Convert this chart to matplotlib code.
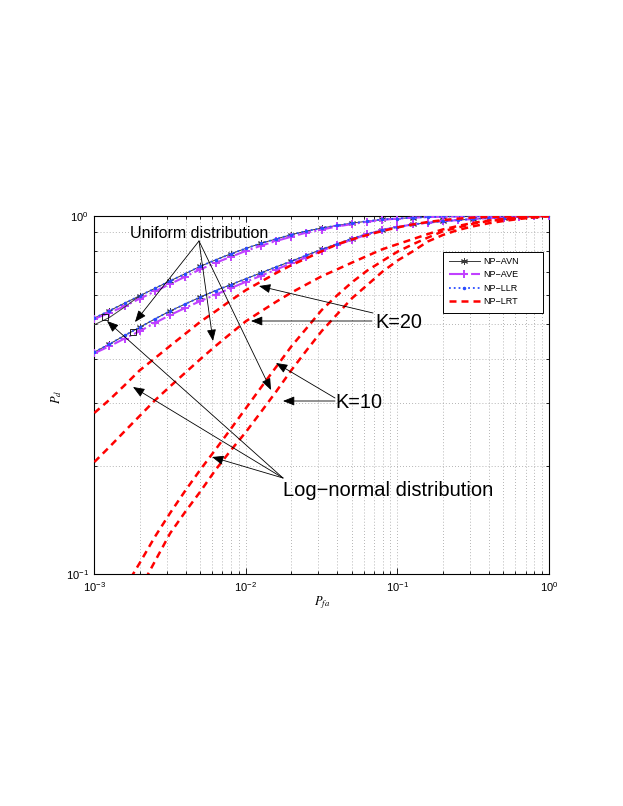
import matplotlib
matplotlib.use('Agg')
import matplotlib.pyplot as plt
from matplotlib.patches import Rectangle
from matplotlib.lines import Line2D
from matplotlib.ticker import LogLocator, NullFormatter, FixedLocator

plt.rcParams['font.family'] = ['Liberation Sans', 'DejaVu Sans']
plt.rcParams['mathtext.fontset'] = 'custom'
plt.rcParams['mathtext.rm'] = 'Liberation Sans'
plt.rcParams['mathtext.it'] = 'Liberation Sans:italic'
plt.rcParams['mathtext.bf'] = 'Liberation Sans:bold'

# ---------------- data ----------------
pfa = [0.001, 0.001259, 0.001585, 0.001995, 0.002512, 0.003162, 0.003981, 0.005012,
       0.00631, 0.007943, 0.01, 0.01259, 0.01585, 0.01995, 0.02512, 0.03162, 0.03981,
       0.05012, 0.0631, 0.07943, 0.1, 0.1259, 0.1585, 0.1995, 0.2512, 0.3162, 0.3981,
       0.5012, 0.631, 0.7943, 1.0]

# K=20 (upper group) NP-LLR / NP-AVN
k20_llr = [0.519, 0.544, 0.571, 0.599, 0.628, 0.659, 0.690, 0.724, 0.754, 0.784, 0.812,
           0.839, 0.863, 0.887, 0.908, 0.925, 0.941, 0.955, 0.967, 0.978, 0.984, 0.989,
           0.993, 0.996, 0.997, 0.998, 0.999, 0.999, 1.0, 1.0, 1.0]
k20_ave = [0.516, 0.537, 0.560, 0.588, 0.616, 0.646, 0.677, 0.710, 0.740, 0.769, 0.799,
           0.826, 0.852, 0.875, 0.899, 0.916, 0.935, 0.949, 0.964, 0.975, 0.984, 0.989,
           0.993, 0.996, 0.997, 0.998, 0.999, 0.999, 1.0, 1.0, 1.0]
# K=10 (lower group)
k10_llr = [0.417, 0.439, 0.464, 0.489, 0.516, 0.543, 0.568, 0.594, 0.619, 0.643, 0.668,
           0.694, 0.721, 0.748, 0.777, 0.807, 0.835, 0.865, 0.891, 0.914, 0.932, 0.947,
           0.958, 0.967, 0.974, 0.981, 0.986, 0.990, 0.994, 0.997, 1.0]
k10_ave = [0.414, 0.433, 0.455, 0.477, 0.503, 0.529, 0.554, 0.579, 0.603, 0.629, 0.655,
           0.681, 0.709, 0.738, 0.767, 0.799, 0.830, 0.859, 0.888, 0.914, 0.932, 0.947,
           0.958, 0.967, 0.974, 0.981, 0.986, 0.990, 0.994, 0.997, 1.0]
# log-normal NP-AVN, K=20, start segment
ln20_avn_x = [0.001, 0.001259, 0.001585, 0.001995]
ln20_avn = [0.497, 0.521, 0.557, 0.599]

# NP-LRT curves
lrt_ln20 = [0.282, 0.307, 0.337, 0.371, 0.401, 0.434, 0.469, 0.507, 0.542, 0.581, 0.621,
            0.656, 0.693, 0.729, 0.762, 0.797, 0.833, 0.860, 0.885, 0.908, 0.929, 0.947,
            0.962, 0.974, 0.983, 0.990, 0.994, 0.996, 0.998, 0.999, 1.0]
lrt_un20 = [0.2057, 0.2267, 0.2507, 0.2769, 0.3059, 0.3345, 0.3652, 0.3987, 0.4337, 0.4700,
            0.5085, 0.5417, 0.5764, 0.6112, 0.6443, 0.6788, 0.7090, 0.7412, 0.7737, 0.8074,
            0.8343, 0.8614, 0.8903, 0.9176, 0.9378, 0.9572, 0.9709, 0.9815, 0.9897, 0.9955, 1.0]
lrt_ln10 = [0.0915, 0.1076, 0.1273, 0.1482, 0.1711, 0.1960, 0.2230, 0.2543, 0.2907, 0.3323,
            0.3792, 0.4325, 0.4859, 0.5462, 0.5995, 0.6531, 0.7039, 0.7485, 0.7949, 0.8331,
            0.8703, 0.9064, 0.9288, 0.9517, 0.9683, 0.9777, 0.9872, 0.9936, 1.0]
lrt_un10 = [0.0907, 0.1087, 0.1301, 0.1494, 0.1703, 0.1957, 0.2216, 0.2495, 0.2839, 0.3237,
            0.3712, 0.4215, 0.4771, 0.5306, 0.5894, 0.6414, 0.6985, 0.7507, 0.7962, 0.8487,
            0.8852, 0.9140, 0.9360, 0.9541, 0.9683, 0.9809, 0.9904, 1.0]

sq_x = [0.00118, 0.0018]
sq_y = [0.522, 0.474]

legend_labels = ['NP\u2212AVN', 'NP\u2212AVE', 'NP\u2212LLR', 'NP\u2212LRT']
xtick_vals = [1e-3, 1e-2, 1e-1, 1e0]
ytick_vals = [1e-1, 1e0]

# ---------------- styles ----------------
C_AVN = '#3a3a3a'
C_AVE = '#c040ff'
C_LLR = '#2a4cff'
C_LRT = '#ff0000'

avn_kw = dict(color=C_AVN, lw=0.7, ls='-', marker=(6, 2, 0), ms=5, mew=0.7,
              markevery=(1, 2))
ave_kw = dict(color=C_AVE, lw=1.5, ls='-.', marker='+', ms=5.5, mew=1.4)
llr_kw = dict(color=C_LLR, lw=1.3, ls=':', marker='.', ms=3)
lrt_kw = dict(color=C_LRT, lw=1.8, ls=(0, (2.8, 2.0)))

fig = plt.figure(figsize=(6.23, 8.06), dpi=100)
ax = fig.add_axes([0.15136, 0.28747, 0.72986, 0.44454])
ax.set_xscale('log')
ax.set_yscale('log')

# group curves
for yl, ya in [(k20_llr, k20_ave), (k10_llr, k10_ave)]:
    ax.plot(pfa, yl, zorder=3, **avn_kw)
    ax.plot(pfa, ya, zorder=3, **ave_kw)
    ax.plot(pfa, yl, zorder=3, **llr_kw)
ax.plot(ln20_avn_x, ln20_avn, color=C_AVN, lw=0.7, zorder=3)

for y in [lrt_ln20, lrt_un20, lrt_ln10, lrt_un10]:
    ax.plot(pfa[-len(y):], y, zorder=4, **lrt_kw)

ax.plot(sq_x, sq_y, ls='none', marker='s', ms=5, mfc='none', mec='black', mew=0.6, zorder=4)

ax.set_xlim(1e-3, 1)
ax.set_ylim(0.1, 1)
ax.xaxis.set_major_locator(FixedLocator(xtick_vals))
ax.yaxis.set_major_locator(FixedLocator(ytick_vals))
ax.xaxis.set_minor_locator(LogLocator(base=10, subs=[2, 3, 4, 5, 6, 7, 8, 9], numticks=20))
ax.yaxis.set_minor_locator(LogLocator(base=10, subs=[2, 3, 4, 5, 6, 7, 8, 9], numticks=20))
ax.xaxis.set_minor_formatter(NullFormatter())
ax.yaxis.set_minor_formatter(NullFormatter())

ax.grid(True, which='both', color='#8a8a8a', lw=0.55, ls=(0, (1, 3)))
ax.set_axisbelow(True)
ax.tick_params(which='both', direction='in', top=True, right=True, width=0.6,
               labelsize=8, pad=4, colors='black')
ax.tick_params(which='major', length=4)
ax.tick_params(which='minor', length=2.2)
for s in ax.spines.values():
    s.set_linewidth(0.8)

ax.set_xlabel(r'$P_{fa}$', fontsize=9, math_fontfamily='stix')
ax.xaxis.set_label_coords(0.5, -0.055)
ax.set_ylabel(r'$P_d$', fontsize=9, math_fontfamily='stix')
ax.yaxis.set_label_coords(-0.066, 0.495)

# legend
ax.add_patch(Rectangle((0.767, 0.729), 0.22, 0.1705, transform=ax.transAxes,
                       fc='white', ec='black', lw=0.7, zorder=6))
handles = [Line2D([], [], color=C_AVN, lw=0.7, marker=(6, 2, 0), ms=5, mew=0.7),
           Line2D([], [], color=C_AVE, lw=1.5, ls='-.', marker='+', ms=5.5, mew=1.4),
           Line2D([], [], color=C_LLR, lw=1.3, ls=':', marker='.', ms=3),
           Line2D([], [], color=C_LRT, lw=1.8, ls=(0, (2.8, 2.0)))]
leg = ax.legend(handles, legend_labels, loc='upper left', bbox_to_anchor=(0.7804, 0.886),
                borderpad=0, borderaxespad=0, handlelength=3.4, handletextpad=0.35,
                labelspacing=0.5, fontsize=6.5, frameon=False)
leg.set_zorder(7)

# annotations (figure pixel coordinates)
H = 806
def P(x, y):
    return (x, H - y)

arrow_kw = dict(arrowstyle='-|>,head_length=0.7,head_width=0.28', color='black',
                lw=0.6, shrinkA=0, shrinkB=0, mutation_scale=10)

def arrow(tail, tip):
    ax.annotate('', xy=P(*tip), xytext=P(*tail), xycoords='figure pixels',
                textcoords='figure pixels', arrowprops=arrow_kw, annotation_clip=False,
                zorder=8)

def label(txt, pos, size, ha='left'):
    ax.annotate(txt, xy=P(*pos), xycoords='figure pixels', ha=ha, va='baseline',
                fontsize=size, annotation_clip=False, zorder=8)

label('Uniform distribution', (199.5, 237.5), 11.5, ha='center')
for tip in [(135, 322), (213, 341), (271, 390)]:
    arrow((199, 241), tip)

label('Log\u2212normal distribution', (283, 495.5), 14.5)
for tip in [(107, 321), (133, 387), (212, 457)]:
    arrow((283, 478), tip)

label('K=20', (375, 328), 14.3)
arrow((373, 313), (259, 286))
arrow((372, 321), (251, 321))

label('K=10', (335, 408), 14.3)
arrow((335, 398), (276, 363))
arrow((335, 401), (283, 401))

fig.savefig('out.png', dpi=100)
